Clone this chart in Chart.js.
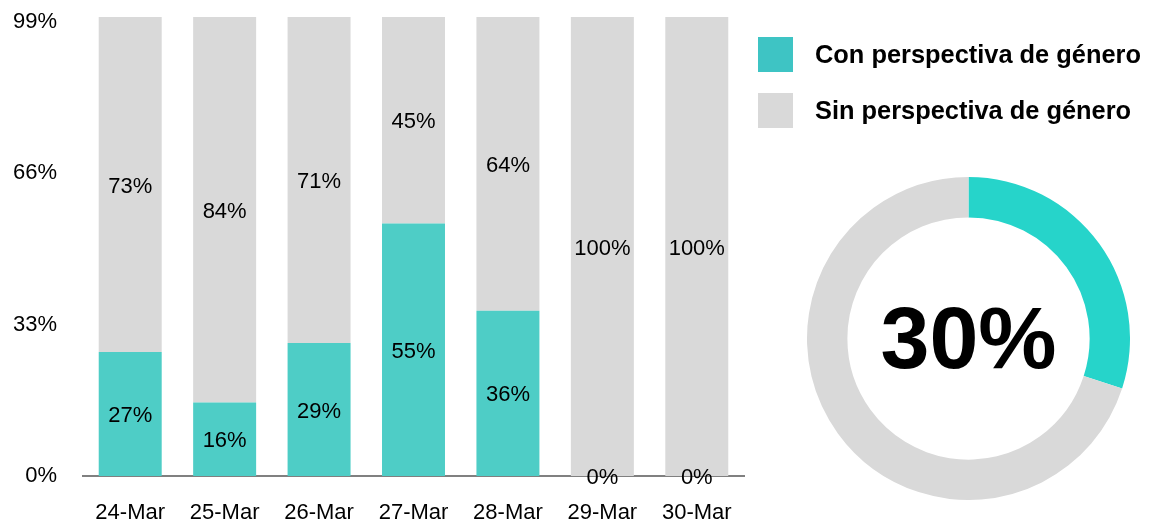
<!DOCTYPE html>
<html>
<head>
<meta charset="utf-8">
<script src="https://cdn.jsdelivr.net/npm/chart.js@4/dist/chart.umd.min.js"></script>
<style>
  html, body { margin: 0; padding: 0; background: #fff; }
  body { width: 1150px; height: 527px; position: relative; overflow: hidden; font-family: "Liberation Sans", Arial, sans-serif; }
  #bar { position: absolute; left: 0; top: 0; }
  #donut { position: absolute; left: 807px; top: 177px; }
  .leg { position: absolute; left: 758px; height: 35px; display: flex; align-items: center; }
  .sw { width: 35px; height: 35px; margin-right: 22px; }
  .lt { font-weight: bold; font-size: 25.4px; color: #000; white-space: nowrap; }
</style>
</head>
<body>
<canvas id="bar" width="760" height="527"></canvas>
<canvas id="donut" width="323" height="323"></canvas>
<div class="leg" style="top:37px"><div class="sw" style="background:#3EC4C4"></div><div class="lt" id="l1"></div></div>
<div class="leg" style="top:93px"><div class="sw" style="background:#D9D9D9"></div><div class="lt" id="l2"></div></div>
<script>
const categories = ["24-Mar", "25-Mar", "26-Mar", "27-Mar", "28-Mar", "29-Mar", "30-Mar"];
const conPerspectiva = [27, 16, 29, 55, 36, 0, 0];
const sinPerspectiva = [73, 84, 71, 45, 64, 100, 100];
const yTicks = [0, 33, 66, 99];
const seriesNames = ["Con perspectiva de género", "Sin perspectiva de género"];
const totalCon = 30;
const totalSin = 70;

document.getElementById('l1').textContent = seriesNames[0];
document.getElementById('l2').textContent = seriesNames[1];

const FONT = '"Liberation Sans", Arial, sans-serif';

const labelPlugin = {
  id: 'segLabels',
  afterDatasetsDraw(chart) {
    const ctx = chart.ctx;
    ctx.save();
    ctx.font = '22px ' + FONT;
    ctx.fillStyle = '#000';
    ctx.textAlign = 'center';
    ctx.textBaseline = 'middle';
    chart.data.datasets.forEach((ds, i) => {
      const meta = chart.getDatasetMeta(i);
      meta.data.forEach((el, j) => {
        const y = (el.y + el.base) / 2 + 2;
        ctx.fillText(ds.data[j] + '%', el.x, y);
      });
    });
    ctx.restore();
  }
};

new Chart(document.getElementById('bar'), {
  type: 'bar',
  data: {
    labels: categories,
    datasets: [
      { label: seriesNames[0], data: conPerspectiva, backgroundColor: '#4ECDC6', barPercentage: 0.667, categoryPercentage: 1 },
      { label: seriesNames[1], data: sinPerspectiva, backgroundColor: '#D9D9D9', barPercentage: 0.667, categoryPercentage: 1 }
    ]
  },
  options: {
    responsive: false,
    animation: false,
    layout: { padding: { top: 17, right: 16, left: 0, bottom: 0 } },
    plugins: { legend: { display: false }, title: { display: false }, tooltip: { enabled: false } },
    scales: {
      x: {
        stacked: true,
        grid: { display: false, drawTicks: false },
        border: { display: true, color: '#808080', width: 2 },
        ticks: { color: '#000', font: { family: FONT, size: 22 }, padding: 24, maxRotation: 0 },
        afterFit(s) { s.height = 51; s.paddingLeft = 0; s.paddingRight = 0; }
      },
      y: {
        stacked: true,
        min: 0, max: 100,
        grid: { display: false, drawTicks: false },
        border: { display: false },
        afterBuildTicks(s) { s.ticks = yTicks.map(v => ({ value: v })); },
        ticks: { color: '#000', font: { family: FONT, size: 22 }, padding: 26, callback: v => v + '%' },
        afterFit(s) { s.width = 83; s.paddingTop = 0; s.paddingBottom = 0; }
      }
    }
  },
  plugins: [labelPlugin]
});

const centerText = {
  id: 'centerText',
  afterDraw(chart) {
    const ctx = chart.ctx;
    const el = chart.getDatasetMeta(0).data[0];
    ctx.save();
    ctx.font = 'bold 88px ' + FONT;
    ctx.fillStyle = '#000';
    ctx.textAlign = 'center';
    ctx.textBaseline = 'middle';
    ctx.fillText(totalCon + '%', el.x, el.y + 5);
    ctx.restore();
  }
};

new Chart(document.getElementById('donut'), {
  type: 'doughnut',
  data: {
    labels: seriesNames,
    datasets: [{ data: [totalCon, totalSin], backgroundColor: ['#26D4CA', '#D9D9D9'], borderWidth: 0 }]
  },
  options: {
    responsive: false,
    animation: false,
    cutout: '75%',
    plugins: { legend: { display: false }, tooltip: { enabled: false } }
  },
  plugins: [centerText]
});
</script>
</body>
</html>
